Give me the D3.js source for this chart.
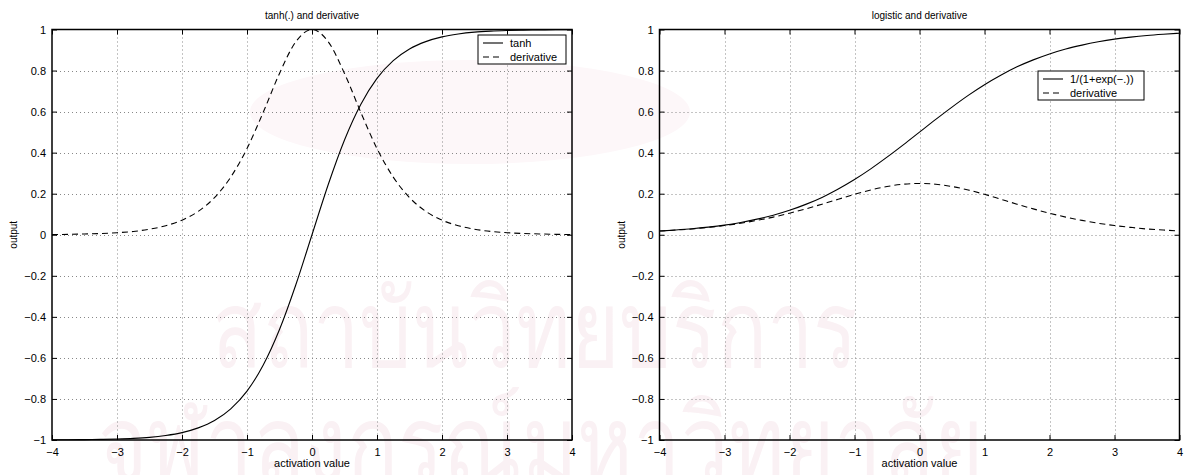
<!DOCTYPE html>
<html>
<head>
  <meta charset="utf-8">
  <title>tanh and logistic activation functions</title>
  <script src="https://d3js.org/d3.v7.min.js"></script>
  <style>
    body {
      margin: 0;
      background: #fff;
    }
    svg text {
      font-family: "Liberation Sans", Arial, Helvetica, sans-serif;
    }
  </style>
</head>
<body>
  <div id="chart"></div>

  <script>
    // activation values (x), read at 0.25 steps
    var xs = [-4, -3.75, -3.5, -3.25, -3, -2.75, -2.5, -2.25, -2, -1.75, -1.5, -1.25, -1, -0.75, -0.5, -0.25,
              0, 0.25, 0.5, 0.75, 1, 1.25, 1.5, 1.75, 2, 2.25, 2.5, 2.75, 3, 3.25, 3.5, 3.75, 4];

    // left panel values
    var tanhVals = [-0.999, -0.999, -0.998, -0.997, -0.995, -0.992, -0.987, -0.978, -0.964, -0.941, -0.905, -0.848, -0.762, -0.635, -0.462, -0.245,
                    0, 0.245, 0.462, 0.635, 0.762, 0.848, 0.905, 0.941, 0.964, 0.978, 0.987, 0.992, 0.995, 0.997, 0.998, 0.999, 0.999];
    var tanhDeriv = [0.001, 0.002, 0.004, 0.006, 0.010, 0.016, 0.027, 0.044, 0.071, 0.114, 0.181, 0.281, 0.420, 0.597, 0.786, 0.940,
                     1, 0.940, 0.786, 0.597, 0.420, 0.281, 0.181, 0.114, 0.071, 0.044, 0.027, 0.016, 0.010, 0.006, 0.004, 0.002, 0.001];

    // right panel values
    var logVals = [0.018, 0.023, 0.029, 0.037, 0.047, 0.060, 0.076, 0.095, 0.119, 0.148, 0.182, 0.223, 0.269, 0.321, 0.378, 0.438,
                   0.5, 0.562, 0.622, 0.679, 0.731, 0.777, 0.818, 0.852, 0.881, 0.905, 0.924, 0.940, 0.953, 0.963, 0.971, 0.977, 0.982];
    var logDeriv = [0.018, 0.023, 0.028, 0.036, 0.045, 0.056, 0.070, 0.086, 0.105, 0.126, 0.149, 0.173, 0.197, 0.218, 0.235, 0.246,
                    0.25, 0.246, 0.235, 0.218, 0.197, 0.173, 0.149, 0.126, 0.105, 0.086, 0.070, 0.056, 0.045, 0.036, 0.028, 0.023, 0.018];

    var xTicks = [-4, -3, -2, -1, 0, 1, 2, 3, 4];
    var yTicks = [-1, -0.8, -0.6, -0.4, -0.2, 0, 0.2, 0.4, 0.6, 0.8, 1];

    var panels = [
      { title: "tanh(.) and derivative", left: 52, f: tanhVals, d: tanhDeriv,
        names: ["tanh", "derivative"], legend: { x: 478, y: 35, w: 88, h: 29 } },
      { title: "logistic and derivative", left: 659.5, f: logVals, d: logDeriv,
        names: ["1/(1+exp(\u2212.))", "derivative"], legend: { x: 1038, y: 71, w: 106, h: 29 } }
    ];

    var width = 1188, height = 475;
    var plotW = 520, plotTop = 29.5, plotBottom = 440;

    var svg = d3.select("#chart").append("svg")
      .attr("width", width)
      .attr("height", height);

    // faint watermark behind the plots
    var wm = svg.append("g");
    wm.append("ellipse").attr("cx", 470).attr("cy", 112).attr("rx", 220).attr("ry", 52)
      .attr("fill", "#fdf7f9");
    var wmText = wm.append("g").attr("fill", "#faf1f4")
      .style("font-family", "'Noto Sans', 'DejaVu Sans', sans-serif");
    wmText.append("text").attr("x", 212).attr("y", 367)
      .attr("font-size", 108).attr("textLength", 646).attr("lengthAdjust", "spacingAndGlyphs")
      .text("สถาบันวิทยบริการ");
    wmText.append("text").attr("x", 98).attr("y", 482)
      .attr("font-size", 108).attr("textLength", 885).attr("lengthAdjust", "spacingAndGlyphs")
      .text("จุฬาลงกรณ์มหาวิทยาลัย");

    var y = d3.scaleLinear().domain([-1, 1]).range([plotBottom, plotTop]);

    panels.forEach(function(p) {
      var x = d3.scaleLinear().domain([-4, 4]).range([p.left, p.left + plotW]);
      var g = svg.append("g");

      // dotted grid
      g.selectAll(".vgrid").data(xTicks.slice(1, -1)).enter().append("line")
        .attr("x1", function(d) { return Math.round(x(d)) + 0.5; })
        .attr("x2", function(d) { return Math.round(x(d)) + 0.5; })
        .attr("y1", plotTop).attr("y2", plotBottom)
        .attr("stroke", "#888").attr("stroke-dasharray", "1,3");
      g.selectAll(".hgrid").data(yTicks.slice(1, -1)).enter().append("line")
        .attr("x1", p.left).attr("x2", p.left + plotW)
        .attr("y1", function(d) { return Math.round(y(d)) + 0.5; })
        .attr("y2", function(d) { return Math.round(y(d)) + 0.5; })
        .attr("stroke", "#888").attr("stroke-dasharray", "1,3");

      // axes with inward ticks
      g.append("g").attr("transform", "translate(0," + plotBottom + ")")
        .call(d3.axisBottom(x).tickValues(xTicks).tickSizeInner(-5).tickSizeOuter(0).tickPadding(8)
          .tickFormat(d3.format("")));
      g.append("g").attr("transform", "translate(" + p.left + ",0)")
        .call(d3.axisLeft(y).tickValues(yTicks).tickSizeInner(-5).tickSizeOuter(0).tickPadding(6)
          .tickFormat(d3.format("")));
      g.append("g").attr("transform", "translate(0," + plotTop + ")")
        .call(d3.axisTop(x).tickValues(xTicks).tickSizeInner(-5).tickSizeOuter(0).tickFormat(""));
      g.append("g").attr("transform", "translate(" + (p.left + plotW) + ",0)")
        .call(d3.axisRight(y).tickValues(yTicks).tickSizeInner(-5).tickSizeOuter(0).tickFormat(""));

      g.selectAll(".domain").remove();
      g.selectAll(".tick line").attr("stroke", "#000");
      g.selectAll(".tick text").attr("font-size", 11).attr("fill", "#000")
        .style("font-family", "'Liberation Sans', Arial, sans-serif");

      // frame
      g.append("rect")
        .attr("x", p.left).attr("y", plotTop)
        .attr("width", plotW).attr("height", plotBottom - plotTop)
        .attr("fill", "none").attr("stroke", "#000").attr("stroke-width", 1.5);

      var line = d3.line()
        .x(function(d, i) { return x(xs[i]); })
        .y(function(d) { return y(d); })
        .curve(d3.curveMonotoneX);

      g.append("path").datum(p.f).attr("d", line)
        .attr("fill", "none").attr("stroke", "#000").attr("stroke-width", 1.1);
      g.append("path").datum(p.d).attr("d", line)
        .attr("fill", "none").attr("stroke", "#000").attr("stroke-width", 1.1)
        .attr("stroke-dasharray", "6,4");

      // titles and axis labels
      g.append("text").attr("x", x(0)).attr("y", 19).attr("text-anchor", "middle")
        .attr("font-size", 10).text(p.title);
      g.append("text").attr("x", x(0)).attr("y", 467).attr("text-anchor", "middle")
        .attr("font-size", 11).text("activation value");
      g.append("text")
        .attr("transform", "translate(" + (p.left - 35) + "," + y(0) + ") rotate(-90)")
        .attr("text-anchor", "middle").attr("font-size", 10).text("output");

      // legend
      var L = p.legend;
      var lg = g.append("g").attr("transform", "translate(" + L.x + "," + L.y + ")");
      lg.append("rect").attr("width", L.w).attr("height", L.h)
        .attr("fill", "#fff").attr("stroke", "#000").attr("stroke-width", 1);
      p.names.forEach(function(name, i) {
        var ly = 8 + i * 14;
        lg.append("line").attr("x1", 5).attr("x2", 25).attr("y1", ly).attr("y2", ly)
          .attr("stroke", "#000").attr("stroke-width", 1.1)
          .attr("stroke-dasharray", i === 1 ? "6,4" : null);
        lg.append("text").attr("x", 32).attr("y", ly + 4)
          .attr("font-size", 11).text(name);
      });
    });
  </script>
</body>
</html>
